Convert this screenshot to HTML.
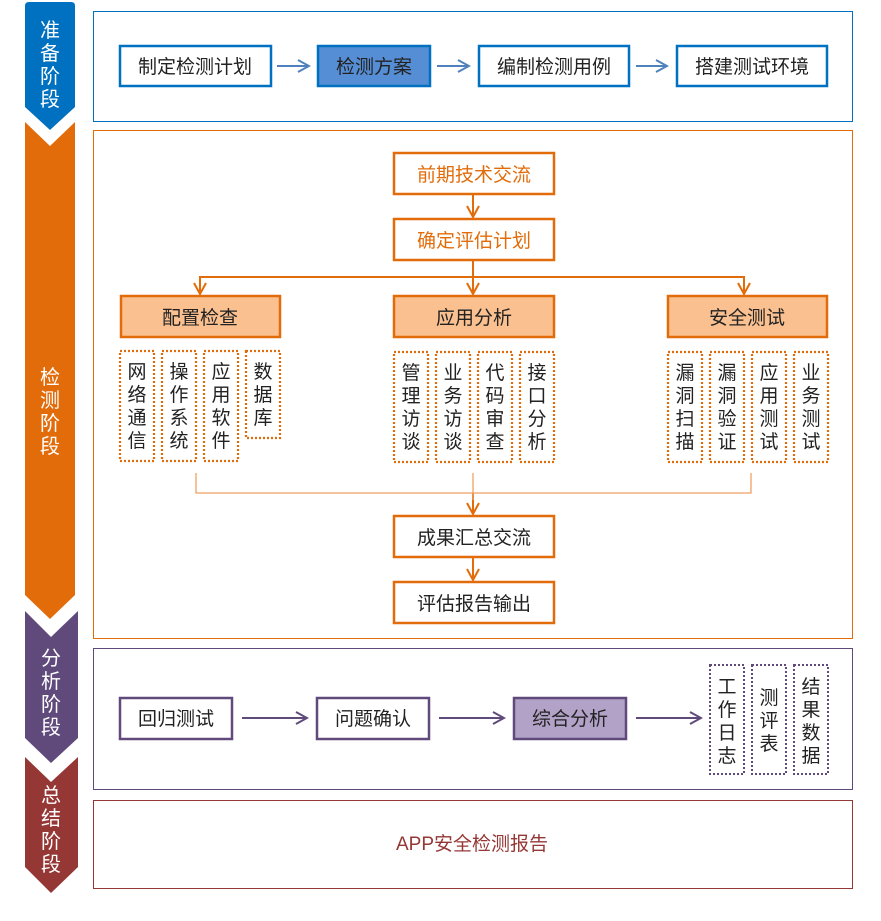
<!DOCTYPE html>
<html><head><meta charset="utf-8"><style>
html,body{margin:0;padding:0;background:#fff;}
svg{display:block;font-family:"Liberation Sans","Noto Sans CJK SC",sans-serif;}
</style></head><body>
<svg width="881" height="921" viewBox="0 0 881 921" xmlns="http://www.w3.org/2000/svg">
<defs>
<marker id="ab" markerWidth="14" markerHeight="14" refX="12" refY="7" orient="auto" markerUnits="userSpaceOnUse"><path d="M1,1 L12,7 L1,13" fill="none" stroke="#4f81bd" stroke-width="2"/></marker>
<marker id="ao" markerWidth="14" markerHeight="14" refX="12" refY="7" orient="auto" markerUnits="userSpaceOnUse"><path d="M1,1 L12,7 L1,13" fill="none" stroke="#e36c0a" stroke-width="2"/></marker>
<marker id="ap" markerWidth="14" markerHeight="14" refX="12" refY="7" orient="auto" markerUnits="userSpaceOnUse"><path d="M1,1 L12,7 L1,13" fill="none" stroke="#604a7b" stroke-width="2"/></marker>
</defs>
<path d="M25,6 Q25,2 29,2 L71,2 Q75,2 75,6 L75,107 L50,130 L25,107 Z" fill="#0070c0"/>
<path d="M25,122 L50,146 L75,122 L75,595 L50,619 L25,595 Z" fill="#e36c0a"/>
<path d="M25,611 L51,637 L78,611 L78,738 L51,763 L25,738 Z" fill="#604a7b"/>
<path d="M25,757 L51,782 L78,757 L78,867 L51,893 L25,867 Z" fill="#953735"/>
<g fill="#fff" font-size="20" text-anchor="middle">
<text x="50" y="37">准</text><text x="50" y="60">备</text><text x="50" y="83">阶</text><text x="50" y="106">段</text>
<text x="50" y="384">检</text><text x="50" y="407">测</text><text x="50" y="430">阶</text><text x="50" y="453">段</text>
<text x="51" y="665">分</text><text x="51" y="688">析</text><text x="51" y="711">阶</text><text x="51" y="734">段</text>
<text x="51" y="802">总</text><text x="51" y="825">结</text><text x="51" y="848">阶</text><text x="51" y="871">段</text>
</g>
<rect x="93.5" y="11.5" width="759" height="110" fill="none" stroke="#0070c0" stroke-width="1"/>
<rect x="93.5" y="130.5" width="759" height="508" fill="none" stroke="#e36c0a" stroke-width="1"/>
<rect x="93.5" y="648.5" width="759" height="141" fill="none" stroke="#604a7b" stroke-width="1"/>
<rect x="93.5" y="800.5" width="759" height="88" fill="none" stroke="#953735" stroke-width="1"/>
<g stroke="#0070c0" stroke-width="2.5">
<rect x="120" y="46" width="151" height="40" fill="#fff"/>
<rect x="318" y="46" width="112" height="40" fill="#558ed5"/>
<rect x="479" y="46" width="150" height="40" fill="#fff"/>
<rect x="677" y="46" width="150" height="40" fill="#fff"/>
</g>
<g stroke="#4f81bd" stroke-width="2">
<line x1="277" y1="66" x2="309" y2="66" marker-end="url(#ab)"/>
<line x1="437" y1="66" x2="469" y2="66" marker-end="url(#ab)"/>
<line x1="636" y1="66" x2="667" y2="66" marker-end="url(#ab)"/>
</g>
<g font-size="19" text-anchor="middle" fill="#222">
<text x="195" y="73">制定检测计划</text><text x="374" y="73">检测方案</text><text x="554" y="73">编制检测用例</text><text x="752" y="73">搭建测试环境</text>
</g>
<g stroke="#e36c0a" stroke-width="2.5" fill="#fff">
<rect x="394" y="153" width="160" height="41"/>
<rect x="394" y="219" width="160" height="41"/>
<rect x="394" y="516" width="160" height="41"/>
<rect x="394" y="582" width="160" height="41"/>
<rect x="121" y="296" width="159" height="41" fill="#fac090"/>
<rect x="394" y="296" width="160" height="41" fill="#fac090"/>
<rect x="668" y="296" width="159" height="41" fill="#fac090"/>
</g>
<g stroke="#e36c0a" stroke-width="2" fill="none">
<line x1="473" y1="194" x2="473" y2="217" marker-end="url(#ao)"/>
<line x1="473" y1="260" x2="473" y2="294" marker-end="url(#ao)"/>
<polyline points="200,294 200,277 744,277 744,294"/>
<line x1="200" y1="280" x2="200" y2="294" marker-end="url(#ao)"/>
<line x1="744" y1="280" x2="744" y2="294" marker-end="url(#ao)"/>
<line x1="473" y1="557" x2="473" y2="580" marker-end="url(#ao)"/>
<line x1="473" y1="493" x2="473" y2="514" marker-end="url(#ao)"/>
</g>
<g stroke="#f0a060" stroke-width="1.3" fill="none">
<polyline points="196,473 196,493 751,493 751,473"/>
<line x1="473" y1="473" x2="473" y2="500"/>
</g>
<g font-size="19" text-anchor="middle">
<text x="474" y="181" fill="#e36c0a">前期技术交流</text>
<text x="474" y="247" fill="#e36c0a">确定评估计划</text>
<text x="474" y="544" fill="#222">成果汇总交流</text>
<text x="474" y="610" fill="#222">评估报告输出</text>
<text x="200" y="324" fill="#222">配置检查</text>
<text x="474" y="324" fill="#222">应用分析</text>
<text x="747" y="324" fill="#222">安全测试</text>
</g>
<g stroke="#e36c0a" stroke-width="2.2" stroke-dasharray="2 2" fill="none">
<rect x="120" y="351" width="34" height="110"/><rect x="162" y="351" width="34" height="110"/><rect x="204" y="351" width="34" height="110"/><rect x="246" y="351" width="34" height="87"/>
<rect x="394" y="352" width="34" height="110"/><rect x="436" y="352" width="34" height="110"/><rect x="478" y="352" width="34" height="110"/><rect x="520" y="352" width="34" height="110"/>
<rect x="668" y="352" width="34" height="110"/><rect x="710" y="352" width="34" height="110"/><rect x="752" y="352" width="34" height="110"/><rect x="794" y="352" width="34" height="110"/>
</g>
<g font-size="19" text-anchor="middle" fill="#222">
<text x="137" y="378">网</text><text x="137" y="401">络</text><text x="137" y="424">通</text><text x="137" y="447">信</text>
<text x="179" y="378">操</text><text x="179" y="401">作</text><text x="179" y="424">系</text><text x="179" y="447">统</text>
<text x="221" y="378">应</text><text x="221" y="401">用</text><text x="221" y="424">软</text><text x="221" y="447">件</text>
<text x="263" y="378">数</text><text x="263" y="401">据</text><text x="263" y="424">库</text>
<text x="411" y="379">管</text><text x="411" y="402">理</text><text x="411" y="425">访</text><text x="411" y="448">谈</text>
<text x="453" y="379">业</text><text x="453" y="402">务</text><text x="453" y="425">访</text><text x="453" y="448">谈</text>
<text x="495" y="379">代</text><text x="495" y="402">码</text><text x="495" y="425">审</text><text x="495" y="448">查</text>
<text x="537" y="379">接</text><text x="537" y="402">口</text><text x="537" y="425">分</text><text x="537" y="448">析</text>
<text x="685" y="379">漏</text><text x="685" y="402">洞</text><text x="685" y="425">扫</text><text x="685" y="448">描</text>
<text x="727" y="379">漏</text><text x="727" y="402">洞</text><text x="727" y="425">验</text><text x="727" y="448">证</text>
<text x="769" y="379">应</text><text x="769" y="402">用</text><text x="769" y="425">测</text><text x="769" y="448">试</text>
<text x="811" y="379">业</text><text x="811" y="402">务</text><text x="811" y="425">测</text><text x="811" y="448">试</text>
</g>
<g stroke="#604a7b" stroke-width="2.5" fill="#fff">
<rect x="120" y="698" width="112" height="41"/>
<rect x="317" y="698" width="112" height="41"/>
<rect x="514" y="698" width="112" height="41" fill="#b3a2c7"/>
</g>
<g stroke="#604a7b" stroke-width="2">
<line x1="242" y1="718" x2="307" y2="718" marker-end="url(#ap)"/>
<line x1="439" y1="718" x2="504" y2="718" marker-end="url(#ap)"/>
<line x1="636" y1="718" x2="701" y2="718" marker-end="url(#ap)"/>
</g>
<g font-size="19" text-anchor="middle" fill="#222">
<text x="176" y="725">回归测试</text><text x="373" y="725">问题确认</text><text x="570" y="725">综合分析</text>
</g>
<g stroke="#604a7b" stroke-width="2" stroke-dasharray="2 2" fill="none">
<rect x="710" y="665" width="34" height="109"/><rect x="752" y="665" width="34" height="109"/><rect x="794" y="665" width="34" height="109"/>
</g>
<g font-size="19" text-anchor="middle" fill="#222">
<text x="727" y="693">工</text><text x="727" y="716">作</text><text x="727" y="739">日</text><text x="727" y="762">志</text>
<text x="769" y="704">测</text><text x="769" y="727">评</text><text x="769" y="750">表</text>
<text x="811" y="693">结</text><text x="811" y="716">果</text><text x="811" y="739">数</text><text x="811" y="762">据</text>
</g>
<text x="472" y="850" font-size="19" text-anchor="middle" fill="#953735">APP安全检测报告</text>
</svg>
</body></html>
